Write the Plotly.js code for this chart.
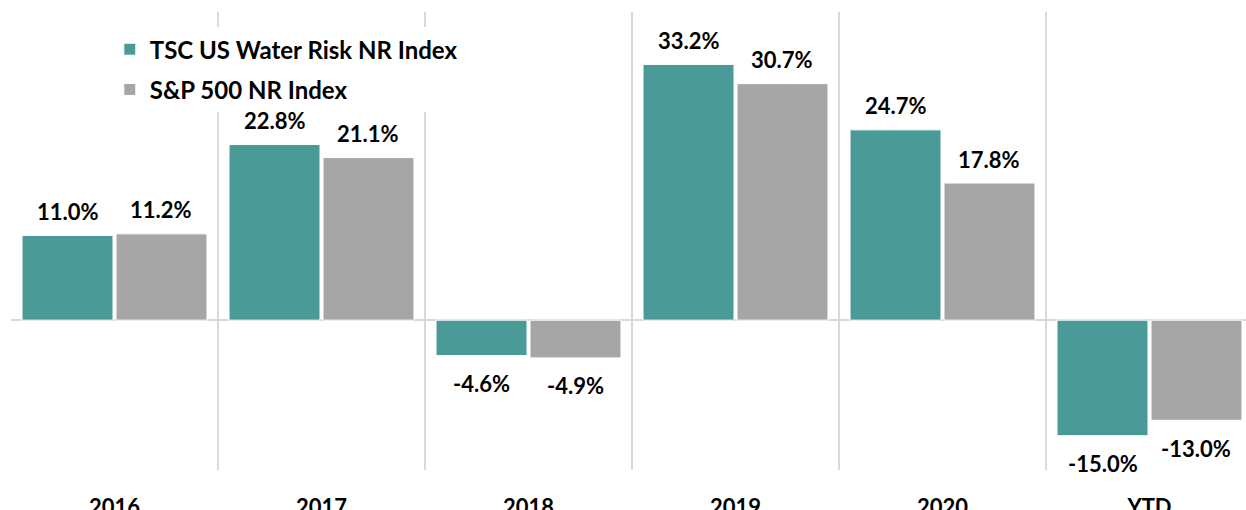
<!DOCTYPE html>
<html>
<head>
<meta charset="utf-8">
<script src="https://cdn.plot.ly/plotly-3.0.1.min.js"></script>
<style>html,body{margin:0;padding:0;background:#fff;}#chart{width:1246px;height:510px;}</style>
</head>
<body>
<div id="chart"></div>
<script>
const categories = ["2016", "2017", "2018", "2019", "2020", "YTD"];
const seriesNames = ["TSC US Water Risk NR Index", "S&P 500 NR Index"];
const tscValues = [11.0, 22.8, -4.6, 33.2, 24.7, -15.0];
const spValues = [11.2, 21.1, -4.9, 30.7, 17.8, -13.0];
const seriesColors = ["#4a9b98", "#a6a6a6"];

const FONT = "Lato, 'Liberation Sans', sans-serif";
const series = [tscValues, spValues];

const traces = series.map((vals, i) => ({
  type: "bar",
  name: seriesNames[i],
  x: categories,
  y: vals,
  legendgroup: "g" + i,
  marker: {color: seriesColors[i], line: {color: "#ffffff", width: 1}},
  hoverinfo: "skip"
}));

const annotations = [];
const offsets = [-0.227, 0.227];
series.forEach((vals, s) => {
  vals.forEach((v, i) => {
    annotations.push({
      xref: "x", yref: "y",
      x: i + offsets[s], y: v,
      text: v.toFixed(1) + "%",
      showarrow: false,
      xanchor: "center", yanchor: "middle",
      yshift: v >= 0 ? 24 : -28,
      font: {family: FONT, size: 22, color: "#000", weight: "bold"}
    });
  });
});

const layout = {
  width: 1246, height: 510,
  margin: {l: 11, r: 0, t: 12, b: 40},
  paper_bgcolor: "#fff", plot_bgcolor: "#fff",
  barmode: "group",
  bargap: 0.092,
  bargroupgap: 0.032,
  showlegend: true,
  legend: {
    x: 0.08, y: 0.967, xanchor: "left", yanchor: "top",
    bgcolor: "#ffffff",
    traceorder: "grouped",
    tracegroupgap: 6,
    font: {family: FONT, size: 24, color: "#000", weight: "bold"}
  },
  xaxis: {
    type: "category",
    range: [-0.5, 5.5 - 7/207],
    tickson: "boundaries",
    showgrid: true, gridcolor: "#d9d9d9", gridwidth: 1.5,
    ticks: "", showline: false, zeroline: false,
    ticklabelstandoff: 22,
    tickfont: {family: FONT, size: 22, color: "#000", weight: "bold"}
  },
  yaxis: {
    range: [-19.45, 40],
    showgrid: false, showticklabels: false, ticks: "",
    zeroline: true, zerolinecolor: "#d9d9d9", zerolinewidth: 1.5,
    showline: false
  },
  annotations: annotations
};

Plotly.newPlot("chart", traces, layout, {displayModeBar: false, staticPlot: true});
</script>
</body>
</html>
